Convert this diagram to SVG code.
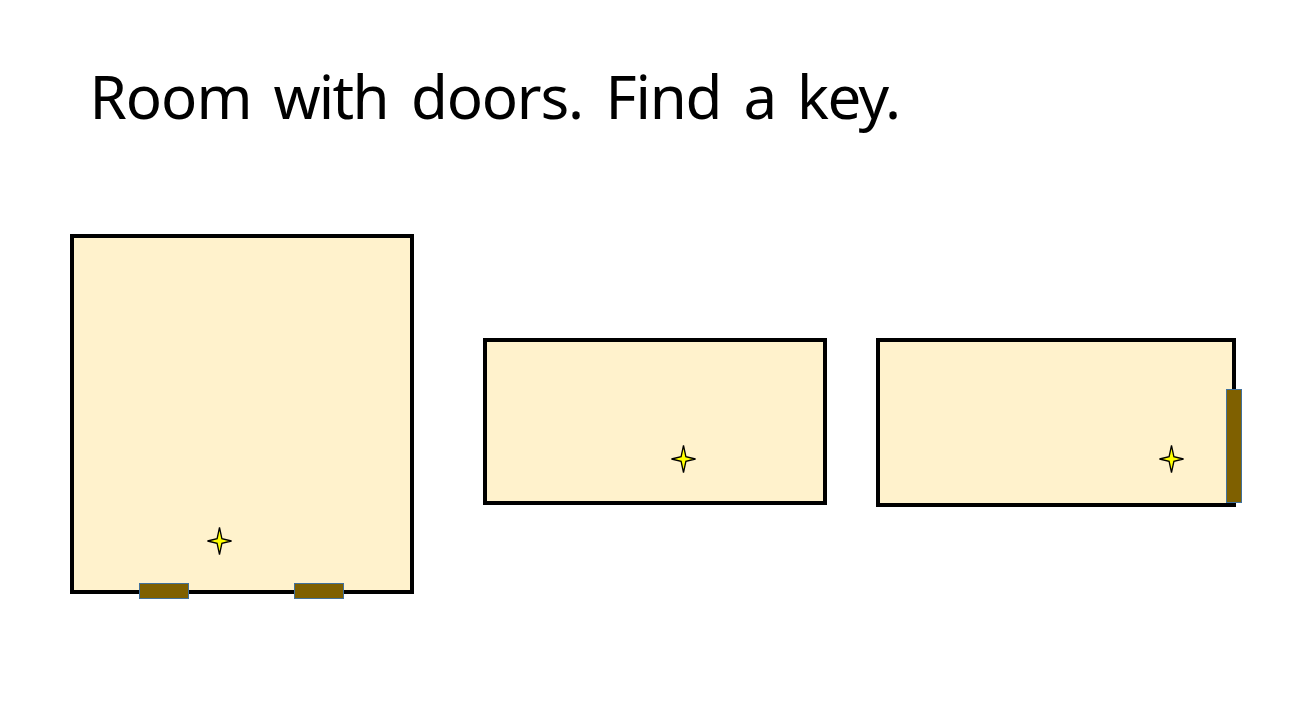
<svg xmlns="http://www.w3.org/2000/svg" width="1308" height="724" viewBox="0 0 1308 724">
<style>
.room{fill:#fff2cc;stroke:#000;stroke-width:4}
.door{fill:#7f6000;stroke:#41719c;stroke-width:1}
.key{fill:#ff0;stroke:#000;stroke-width:1.3}
.title{font-family:"Noto Sans","Noto Sans CJK KR",sans-serif;font-size:60px;fill:#000}
</style>
<defs><path id="star" d="M0-13.5L2.4-2.4 12 0 2.4 2.4 0 13.5-2.4 2.4-12 0-2.4-2.4Z"/></defs>
<rect width="1308" height="724" fill="#fff"/>
<g id="title"><text class="title" y="119"><tspan x="89.5" letter-spacing="-1">Room</tspan> <tspan x="273.5" textLength="116">with</tspan> <tspan x="411" textLength="173">doors.</tspan> <tspan x="605.5" textLength="117">Find</tspan> <tspan x="743.5">a</tspan> <tspan x="797" letter-spacing="-1.6">key.</tspan></text></g>
<g id="room-1"><rect class="room" x="72" y="236" width="340" height="356"/></g>
<g id="room-2"><rect class="room" x="485" y="340" width="340" height="163"/></g>
<g id="room-3"><rect class="room" x="878" y="340" width="356" height="165"/></g>
<g id="door-1"><rect class="door" x="139.5" y="583.5" width="49" height="15"/></g>
<g id="door-2"><rect class="door" x="294.5" y="583.5" width="49" height="15"/></g>
<g id="door-3"><rect class="door" x="1226.5" y="389.5" width="15" height="113"/></g>
<g id="key-1"><use class="key" href="#star" x="219.5" y="541"/></g>
<g id="key-2"><use class="key" href="#star" x="683.5" y="459"/></g>
<g id="key-3"><use class="key" href="#star" x="1171.5" y="459"/></g>
<g id="connectors"></g>
</svg>
